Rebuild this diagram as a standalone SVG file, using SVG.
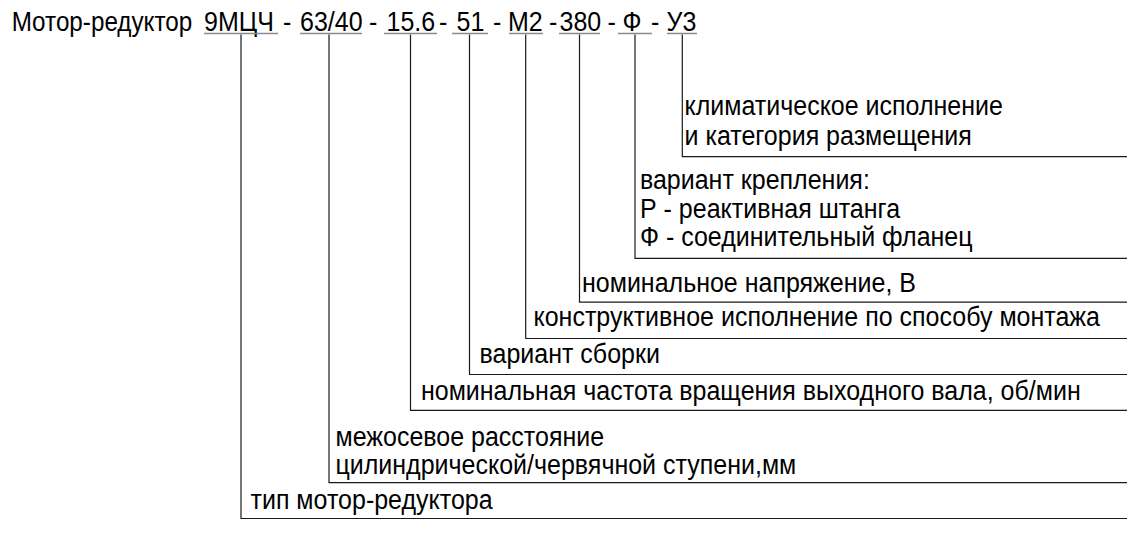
<svg xmlns="http://www.w3.org/2000/svg" width="1144" height="534" viewBox="0 0 1144 534">
<style>
  text { font-family: "Liberation Sans", Arial, sans-serif; font-size: 27px; fill: #000; }
  .ul { stroke: #8a8a8a; stroke-width: 1.6; fill: none; }
  .cn { stroke: #1a1a1a; stroke-width: 1.2; fill: none; }
</style>
<rect width="1144" height="534" fill="#fff"/>

<g id="code">
  <g transform="scale(0.926,1)">
    <text x="12.6" y="31" textLength="195" lengthAdjust="spacingAndGlyphs">Мотор-редуктор</text>
    <text x="220.3" y="31">9МЦЧ</text>
    <text x="305.6" y="31">-</text>
    <text x="324" y="31">63/40</text>
    <text x="398.5" y="31">-</text>
    <text x="417.4" y="31">15.6</text>
    <text x="474.1" y="31">-</text>
    <text x="493" y="31">51</text>
    <text x="532.4" y="31">-</text>
    <text x="548.6" y="31">М2</text>
    <text x="592.9" y="31">-</text>
    <text x="604.2" y="31">380</text>
    <text x="656" y="31">-</text>
    <text x="672.3" y="31">Ф</text>
    <text x="703" y="31">-</text>
    <text x="719.8" y="31">У3</text>
  </g>
  <path class="ul" d="M204 33.5H278M300 33.5H362M384 33.5H437M452 33.5H488M509 33.5H543M559 33.5H600M618 33.5H652M667 33.5H697"/>
</g>

<g id="connectors">
  <path class="cn" d="M682.3 34.5V156.7H1127"/>
  <path class="cn" d="M635 34.5V258.3H1127"/>
  <path class="cn" d="M579.5 34.5V302.2H1127"/>
  <path class="cn" d="M525.7 34.5V338.5H1127"/>
  <path class="cn" d="M469.5 34.5V374.5H1127"/>
  <path class="cn" d="M410.5 34.5V410.3H1127"/>
  <path class="cn" d="M329 34.5V482.7H1127"/>
  <path class="cn" d="M241 34.5V518.5H1127"/>
</g>

<g id="climate" transform="scale(0.926,1)">
  <text x="739.2" y="115">климатическое исполнение</text>
  <text x="739.2" y="145">и категория размещения</text>
</g>
<g id="mounting" transform="scale(0.926,1)">
  <text x="691.1" y="189">вариант крепления:</text>
  <text x="691.1" y="218">Р - реактивная штанга</text>
  <text x="691.1" y="246">Ф - соединительный фланец</text>
</g>
<g id="voltage" transform="scale(0.926,1)">
  <text x="628.5" y="292">номинальное напряжение, В</text>
</g>
<g id="mount-design" transform="scale(0.926,1)">
  <text x="576.1" y="326">конструктивное исполнение по способу монтажа</text>
</g>
<g id="assembly" transform="scale(0.926,1)">
  <text x="517.8" y="363">вариант сборки</text>
</g>
<g id="speed" transform="scale(0.926,1)">
  <text x="454.6" y="400">номинальная частота вращения выходного вала, об/мин</text>
</g>
<g id="center-distance" transform="scale(0.926,1)">
  <text x="362.3" y="446">межосевое расстояние</text>
  <text x="362.3" y="474">цилиндрической/червячной ступени,мм</text>
</g>
<g id="type" transform="scale(0.926,1)">
  <text x="270.5" y="509">тип мотор-редуктора</text>
</g>
</svg>
